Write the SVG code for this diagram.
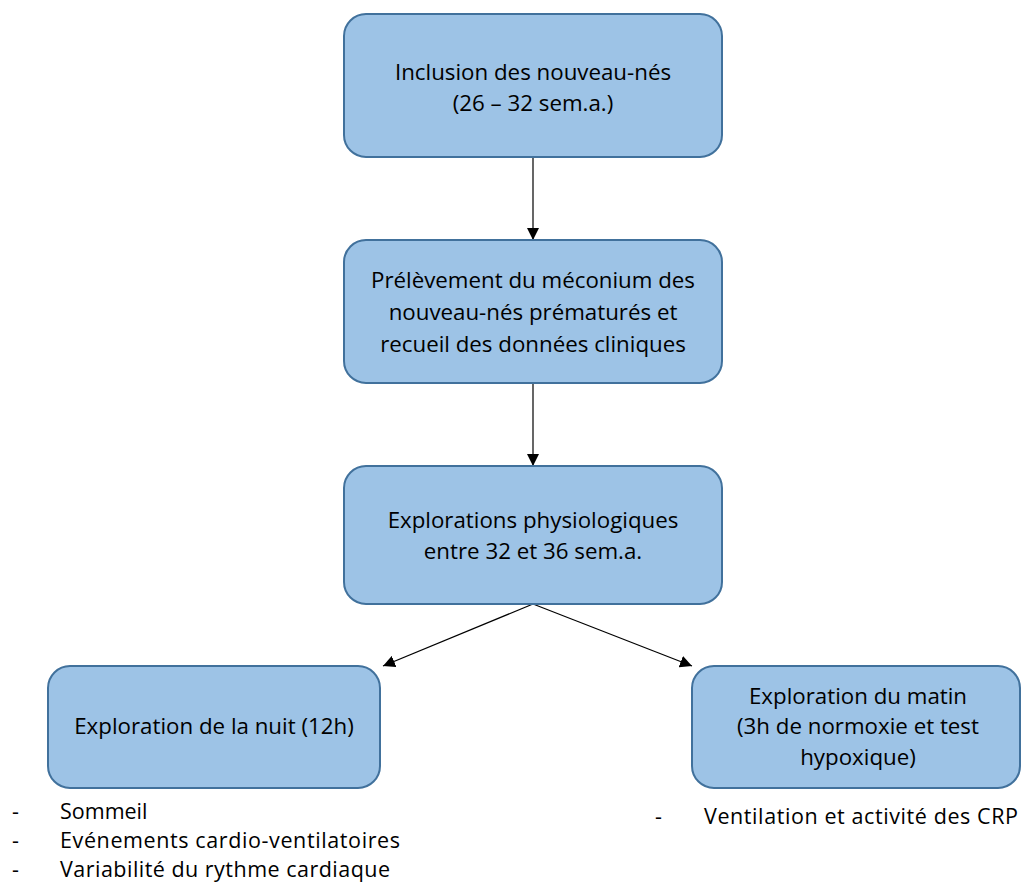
<svg xmlns="http://www.w3.org/2000/svg" width="1022" height="884" viewBox="0 0 1022 884">
<defs>
<marker id="ah" viewBox="0 0 10 10" refX="10" refY="5" markerWidth="12" markerHeight="12" markerUnits="userSpaceOnUse" orient="auto">
<path d="M0,0 L10,5 L0,10 z" fill="#000"/>
</marker>
<style>
.box{fill:#9DC3E6;stroke:#41719C;stroke-width:2}
.t{font-family:"Open Sans","Liberation Sans",Arial,sans-serif;font-size:22.3px;fill:#000;text-anchor:middle}
.l{font-family:"Open Sans","Liberation Sans",Arial,sans-serif;font-size:21.5px;fill:#000}
.c{stroke:#000;stroke-width:1.2;fill:none;marker-end:url(#ah)}
</style>
</defs>
<rect width="1022" height="884" fill="#fff"/>
<g id="connectors">
<line class="c" x1="533" y1="157" x2="533" y2="240"/>
<line class="c" x1="533" y1="383" x2="533" y2="466"/>
<line class="c" x1="533" y1="604" x2="383" y2="666"/>
<line class="c" x1="533" y1="604" x2="692" y2="666"/>
</g>
<g id="n1">
<rect class="box" x="344" y="14" width="378" height="143" rx="22"/>
<text class="t" x="533" y="80">Inclusion des nouveau-nés</text>
<text class="t" x="533" y="111">(26 – 32 sem.a.)</text>
</g>
<g id="n2">
<rect class="box" x="344" y="240" width="378" height="143" rx="22"/>
<text class="t" x="533" y="288">Prélèvement du méconium des</text>
<text class="t" x="533" y="320">nouveau-nés prématurés et</text>
<text class="t" x="533" y="352">recueil des données cliniques</text>
</g>
<g id="n3">
<rect class="box" x="344" y="466" width="378" height="138" rx="22"/>
<text class="t" x="533" y="528">Explorations physiologiques</text>
<text class="t" x="533" y="559">entre 32 et 36 sem.a.</text>
</g>
<g id="n4">
<rect class="box" x="48" y="666" width="332" height="122" rx="22"/>
<text class="t" x="214" y="734">Exploration de la nuit (12h)</text>
</g>
<g id="n5">
<rect class="box" x="692" y="666" width="328" height="122" rx="22"/>
<text class="t" x="858" y="704">Exploration du matin</text>
<text class="t" x="858" y="734">(3h de normoxie et test</text>
<text class="t" x="858" y="765">hypoxique)</text>
</g>
<g id="list-left">
<text class="l" x="12" y="819">-</text>
<text class="l" x="60" y="819">Sommeil</text>
<text class="l" x="12" y="848">-</text>
<text class="l" x="60" y="848" textLength="340" lengthAdjust="spacing">Evénements cardio-ventilatoires</text>
<text class="l" x="12" y="877">-</text>
<text class="l" x="60" y="877" textLength="330" lengthAdjust="spacing">Variabilité du rythme cardiaque</text>
</g>
<g id="list-right">
<text class="l" x="655" y="824">-</text>
<text class="l" x="704" y="824" textLength="314" lengthAdjust="spacing">Ventilation et activité des CRP</text>
</g>
</svg>
